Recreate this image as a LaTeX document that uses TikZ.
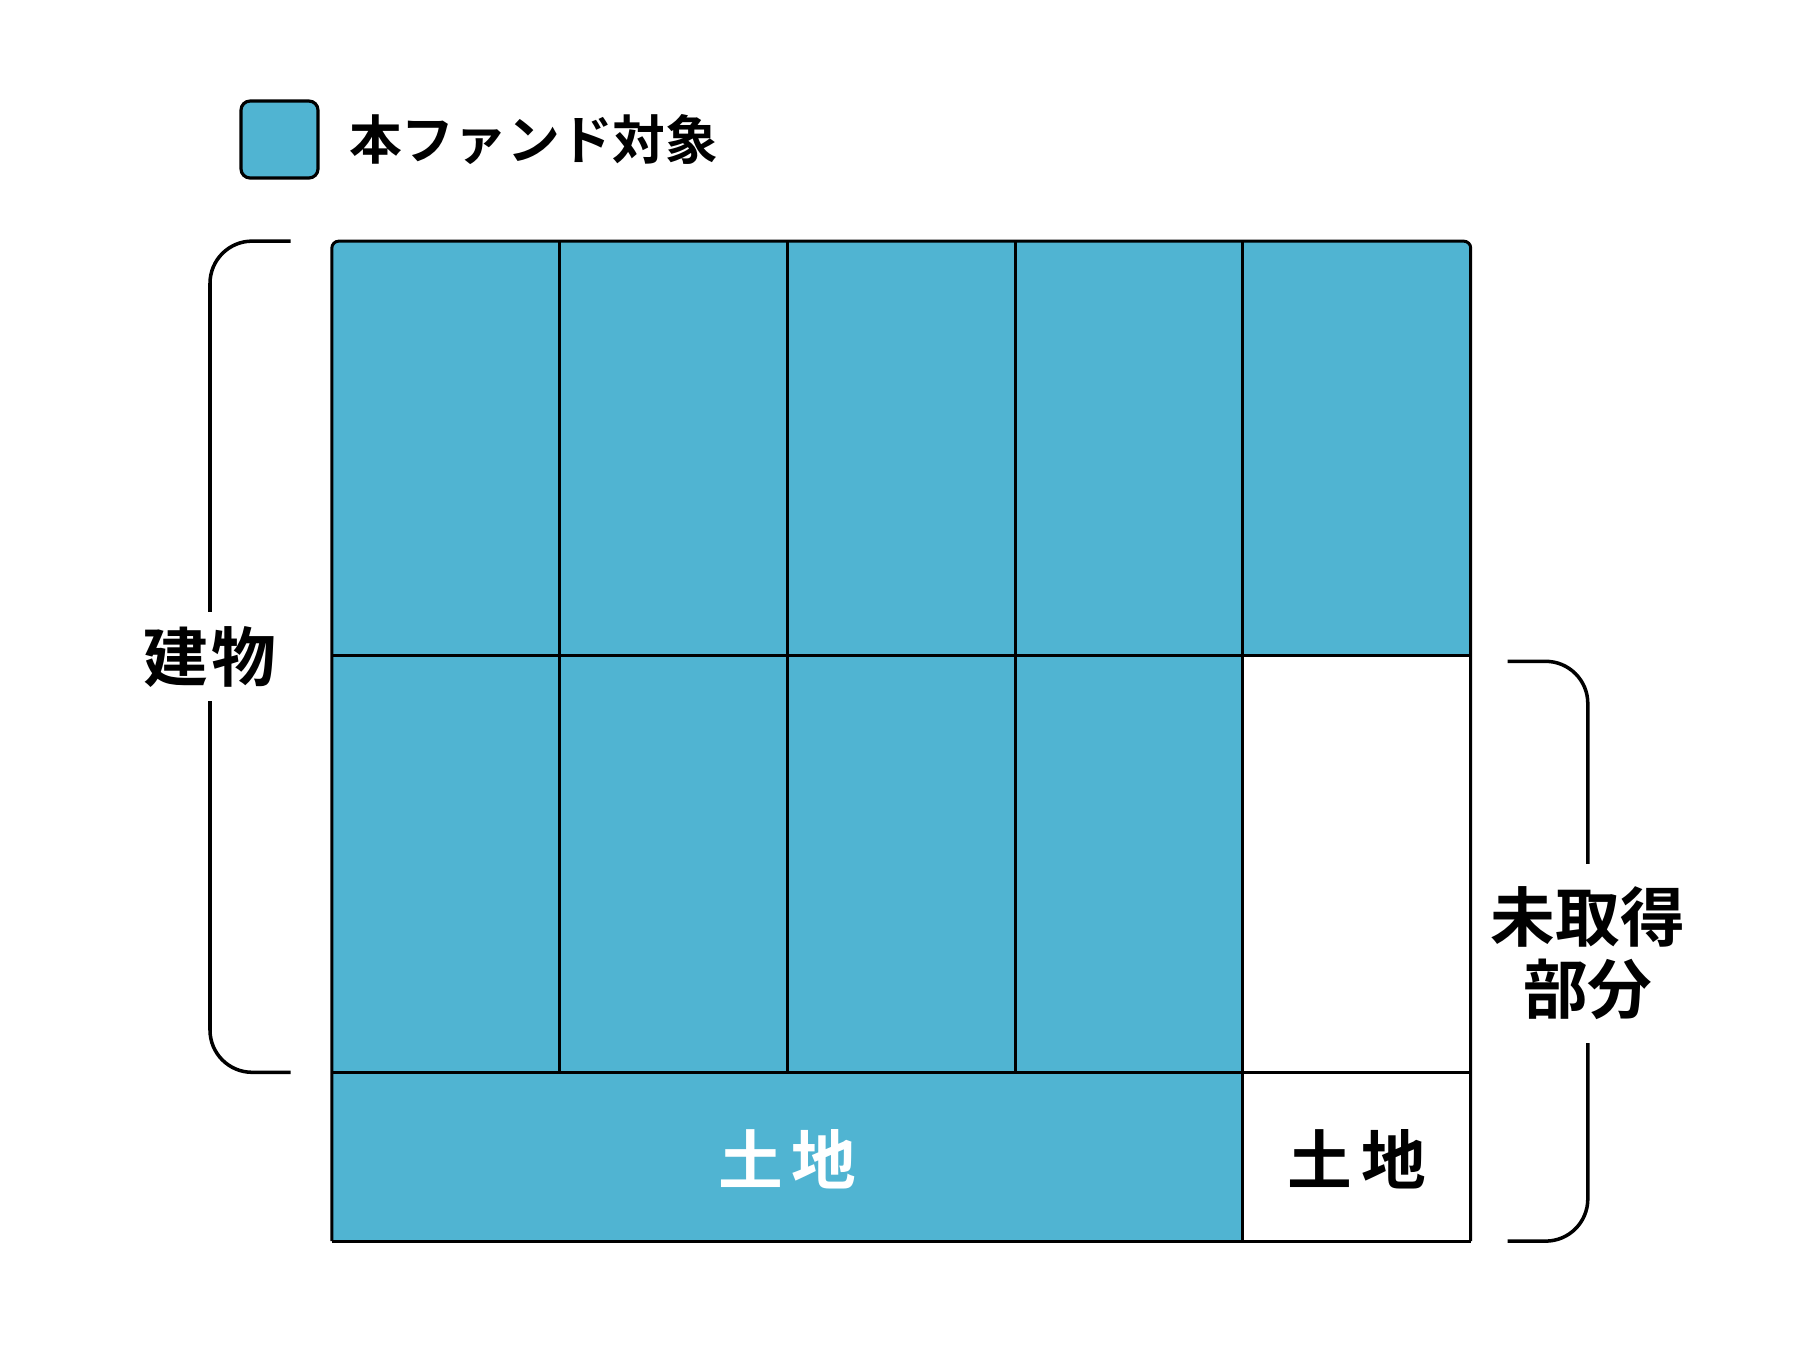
\documentclass[tikz,border=0pt]{standalone}
\usepackage{fontspec}
\newfontfamily\cjk{Noto Sans CJK JP}[BoldFont={Noto Sans CJK JP Bold}]
\usetikzlibrary{positioning}
\definecolor{fundblue}{RGB}{80,180,210}

\begin{document}
\begin{tikzpicture}[x=0.01cm,y=-0.01cm]
\useasboundingbox (0,0) rectangle (1800,1350);
\tikzset{
  gridline/.style={line width=0.85pt,black},
  bracket/.style={line width=1pt,black,rounded corners=12pt},
  label/.style={font=\cjk\bfseries\fontsize{18.4}{20.5}\selectfont,inner sep=0pt,align=center},
}
% legend
\node[draw,line width=0.9pt,fill=fundblue,rounded corners=2.6pt,minimum size=21.9pt,inner sep=0pt](legendbox) at (279.5,139.5) {};
\node[label,font=\cjk\bfseries\fontsize{15}{16}\selectfont,anchor=west](legendtext) at ([xshift=8.2pt]legendbox.east) {本ファンド対象};

% cells
\fill[fundblue,rounded corners=2pt] (331.8,1241.1) -- (331.8,241.1) -- (1470.7,241.1) -- (1470.7,1241.1);
\fill[white] (1242.9,655.6) rectangle (1470.7,1241.1);
\draw[gridline,rounded corners=2pt] (331.8,1241.1) -- (331.8,241.1) -- (1470.7,241.1) -- (1470.7,1241.1);
\draw[gridline] (331.8,1241.1) -- (1470.7,1241.1);
\draw[gridline] (331.8,655.6) -- (1470.7,655.6);
\draw[gridline] (331.8,1072.3) -- (1470.7,1072.3);
\foreach \x in {559.6,787.4,1015.1}
  \draw[gridline] (\x,241.1) -- (\x,1072.3);
\draw[gridline] (1242.9,241.1) -- (1242.9,1241.1);

\node[label,text=white](landfund) at (787.3,1159) {土\hspace{2.5pt}地};
\node[label](landrest) at (1356.8,1159) {土\hspace{2.5pt}地};

% brackets
\draw[bracket] (290.5,241.1) -- (210,241.1) -- (210,1072.3) -- (290.5,1072.3);
\node[label,fill=white,inner ysep=4pt](building) at (210,656.7) {建\hspace{1pt}物};
\draw[bracket] (1507.5,661.3) -- (1587.8,661.3) -- (1587.8,1241.1) -- (1507.5,1241.1);
\node[label,fill=white,inner ysep=6.5pt](unacquired) at (1587.8,953) {未取得\\部分};
\end{tikzpicture}
\end{document}
